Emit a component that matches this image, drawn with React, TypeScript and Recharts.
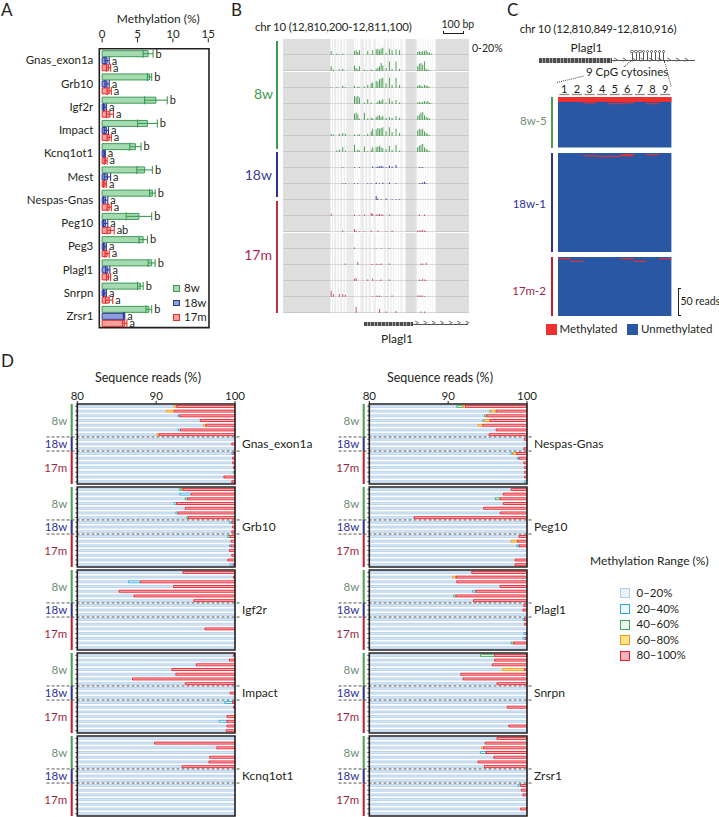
import React from 'react';
import { BarChart, Bar, XAxis, YAxis, ErrorBar, LabelList, ReferenceArea, ReferenceLine, ComposedChart } from 'recharts';

const INK = '#231f20';
const FONT = 'Lato, "Open Sans", "DejaVu Sans", sans-serif';

// ---------------- Panel A data ----------------
const genesA = ['Gnas_exon1a', 'Grb10', 'Igf2r', 'Impact', 'Kcnq1ot1', 'Mest', 'Nespas-Gnas', 'Peg10', 'Peg3', 'Plagl1', 'Snrpn', 'Zrsr1'];
const meth8w = [6.5, 6.7, 7.6, 6.4, 4.7, 6.0, 7.1, 5.2, 5.8, 7.0, 5.4, 6.6];
const err8w = [0.7, 0.3, 1.6, 1.4, 0.8, 1.1, 0.4, 1.8, 0.6, 0.5, 0.4, 0.4];
const meth18w = [0.7, 0.7, 0.4, 0.6, 0.35, 0.75, 0.5, 0.5, 0.4, 0.8, 0.4, 3.1];
const err18w = [0.3, 0.3, 0.2, 0.3, 0.1, 0.45, 0.3, 0.3, 0.2, 0.3, 0.2, 0.1];
const meth17m = [0.9, 1.0, 1.1, 1.0, 0.5, 0.4, 1.0, 1.2, 0.7, 0.9, 1.0, 3.2];
const err17m = [0.3, 0.3, 0.5, 0.3, 0.2, 0.2, 0.3, 0.5, 0.3, 0.3, 0.5, 0.3];
const sig8w = ['b', 'b', 'b', 'b', 'b', 'b', 'b', 'b', 'b', 'b', 'b', 'b'];
const sig18w = ['a', 'a', 'a', 'a', 'a', 'a', 'a', 'a', 'a', 'a', 'a', 'a'];
const sig17m = ['a', 'a', 'a', 'a', 'a', 'a', 'a', 'ab', 'a', 'a', 'a', 'a'];
const legendA = ['8w', '18w', '17m'];

// ---------------- Panel B data ----------------
const cpgPos = [234, 245, 261, 274, 290, 303, 347, 355, 363, 371, 395, 411, 428, 435, 452, 460, 468, 476, 484, 500, 516, 529, 540, 548, 556, 565, 581, 589, 653, 661, 669, 677, 686, 694, 702, 710, 718, 726, 734];
const trk8w1 = [5, 1, 2, 1, 2, 0, 5, 6, 4, 6, 0, 5, 1, 6, 7, 8, 6, 8, 9, 3, 8, 6, 0, 7, 0, 6, 0, 0, 4, 5, 4, 5, 5, 6, 4, 3, 2, 0, 0];
const trk8w2 = [6, 2, 0, 2, 3, 0, 7, 4, 2, 6, 2, 1, 2, 1, 3, 4, 6, 10, 7, 4, 12, 3, 0, 12, 0, 3, 0, 0, 6, 9, 10, 8, 12, 3, 2, 1, 0, 0, 0];
const trk8w3 = [1, 0, 1, 0, 3, 1, 3, 0, 2, 1, 2, 4, 6, 7, 9, 8, 11, 12, 13, 6, 13, 4, 0, 13, 0, 4, 0, 0, 3, 4, 3, 2, 4, 3, 3, 1, 0, 0, 0];
const trk8w4 = [0, 0, 0, 0, 0, 0, 10, 9, 10, 8, 2, 6, 2, 0, 1, 3, 5, 4, 6, 2, 7, 4, 0, 5, 0, 2, 0, 0, 2, 3, 2, 3, 4, 3, 4, 2, 1, 0, 0];
const trk8w5 = [0, 0, 0, 0, 0, 0, 8, 9, 7, 2, 9, 2, 3, 2, 4, 5, 6, 4, 5, 3, 4, 3, 0, 5, 0, 3, 0, 0, 5, 7, 9, 10, 6, 4, 3, 2, 0, 0, 0];
const trk8w6 = [3, 2, 0, 3, 4, 3, 2, 0, 2, 2, 1, 3, 6, 9, 8, 10, 9, 10, 11, 6, 11, 5, 0, 9, 0, 4, 0, 0, 7, 9, 8, 9, 6, 4, 3, 1, 0, 0, 0];
const trk8w7 = [0, 0, 2, 3, 6, 2, 9, 1, 3, 2, 7, 1, 3, 6, 6, 7, 8, 6, 5, 4, 8, 3, 0, 9, 0, 2, 0, 0, 6, 8, 9, 10, 6, 4, 3, 1, 0, 0, 0];
const trk18w1 = [0, 0, 0, 0, 1, 0, 1, 0, 0, 1, 0, 0, 0, 2, 1, 2, 2, 3, 2, 1, 3, 2, 0, 4, 0, 0, 0, 0, 0, 1, 1, 1, 0, 0, 0, 0, 0, 0, 0];
const trk18w2 = [0, 0, 0, 0, 1, 1, 1, 0, 1, 0, 0, 1, 1, 0, 2, 0, 1, 0, 2, 0, 2, 0, 0, 1, 0, 0, 0, 0, 0, 1, 1, 2, 3, 1, 0, 0, 0, 0, 0];
const trk18w3 = [0, 0, 0, 0, 0, 0, 0, 0, 0, 0, 0, 0, 0, 0, 5, 2, 0, 1, 0, 2, 0, 1, 0, 1, 0, 1, 0, 0, 0, 0, 0, 0, 0, 0, 0, 0, 0, 0, 0];
const trk17m1 = [3, 0, 0, 0, 0, 0, 2, 0, 0, 1, 2, 0, 4, 3, 2, 2, 3, 2, 2, 0, 2, 0, 0, 0, 0, 0, 0, 0, 0, 2, 0, 0, 2, 0, 0, 0, 0, 0, 0];
const trk17m2 = [0, 0, 0, 0, 2, 0, 4, 2, 0, 1, 1, 0, 2, 0, 0, 2, 0, 0, 0, 1, 0, 2, 0, 0, 0, 0, 0, 0, 2, 2, 2, 3, 2, 1, 0, 0, 0, 0, 0];
const trk17m3 = [0, 0, 0, 0, 0, 0, 2, 0, 0, 0, 0, 0, 0, 0, 1, 0, 0, 1, 0, 0, 1, 0, 0, 0, 0, 0, 0, 0, 0, 0, 0, 0, 0, 0, 0, 0, 0, 0, 0];
const trk17m4 = [0, 0, 0, 0, 0, 2, 0, 0, 4, 0, 0, 0, 1, 1, 2, 1, 1, 2, 0, 0, 2, 0, 0, 0, 0, 0, 0, 0, 0, 0, 2, 2, 0, 3, 0, 0, 0, 0, 0];
const trk17m5 = [0, 0, 0, 0, 0, 0, 3, 4, 0, 0, 0, 2, 0, 3, 1, 0, 1, 2, 0, 0, 2, 0, 0, 0, 0, 0, 0, 0, 0, 2, 1, 3, 2, 1, 0, 0, 0, 0, 0];
const trk17m6 = [8, 4, 0, 4, 4, 3, 0, 0, 0, 0, 0, 0, 0, 1, 2, 1, 2, 1, 0, 1, 0, 2, 0, 0, 0, 0, 0, 0, 2, 2, 2, 2, 1, 0, 0, 0, 0, 0, 0];
const trk17m7 = [0, 0, 0, 0, 0, 0, 0, 8, 0, 0, 0, 0, 0, 0, 0, 0, 5, 0, 0, 2, 0, 0, 0, 3, 0, 0, 0, 0, 0, 0, 2, 0, 2, 0, 0, 0, 0, 0, 0];

// ---------------- Panel C data ----------------
const cpgNumbers = [1, 2, 3, 4, 5, 6, 7, 8, 9];
const reads8w5 = 91;
const mk8wRead = [0, 10, 10, 11, 11];
const mk8wSpan = [9, 2, 2, 2, 2];
const mk8wFrom = [1, 3, 6, 5, 8];
const mk8wTo = [9, 3, 6, 5, 8];
const reads18w1 = 179;
const mk18wRead = [2, 2, 4, 4, 5];
const mk18wSpan = [2, 2, 2, 2, 2];
const mk18wFrom = [6, 8, 3, 6, 4];
const mk18wTo = [6, 8, 3, 6, 5];
const reads17m2 = 107;
const mk17mRead = [2, 2, 2, 7, 7];
const mk17mSpan = [2, 2, 2, 2, 2];
const mk17mFrom = [1, 6, 9, 2, 7];
const mk17mTo = [1, 6, 9, 2, 7];

// ---------------- Panel D data ----------------
// 17 samples per gene: 7 x 8w, 3 x 18w, 7 x 17m ; share of reads (%) in each methylation range
const zeros17 = [0, 0, 0, 0, 0, 0, 0, 0, 0, 0, 0, 0, 0, 0, 0, 0, 0];
const gnasR = [7.4, 7.7, 7.0, 4.4, 3.7, 6.9, 9.6, 0, 0.4, 0, 0.2, 0.3, 0.3, 0.2, 0, 1.4, 0.4];
const gnasO = [0.3, 1.0, 0, 0, 0.3, 0, 0.3, 0, 0, 0, 0, 0, 0, 0, 0, 0, 0];
const gnasG = [0, 0, 0, 0, 0, 0, 0, 0, 0, 0, 0, 0, 0, 0, 0.2, 0, 0];
const gnasC = [0, 0, 0.2, 0, 0, 0.3, 0, 0, 0, 0, 0.2, 0, 0, 0, 0, 0, 0];
const grb10R = [6.6, 5.5, 6.0, 7.4, 6.3, 7.2, 5.9, 0.4, 0.3, 0.4, 0.6, 0.5, 0.5, 0.7, 0.4, 0.9, 0.2];
const grb10O = [0.1, 0.1, 0, 0, 0, 0, 0, 0, 0, 0, 0, 0, 0, 0, 0, 0, 0];
const grb10G = [0.3, 0, 0.3, 0, 0, 0, 0.2, 0, 0, 0, 0.3, 0, 0, 0, 0, 0, 0];
const grb10C = [0, 1.4, 0, 0.3, 0, 0.3, 0, 0.3, 0, 0, 0, 0, 0.2, 0, 0, 0, 0.4];
const igf2rR = [6.6, 0.2, 12.0, 7.8, 14.7, 12.8, 5.2, 0, 0, 0, 0, 0, 3.8, 0, 0, 0, 0];
const igf2rC = [0, 0, 1.5, 0, 0, 0, 0, 0, 0, 0, 0, 0, 0, 0, 0, 0, 0];
const impactR = [0.2, 0.7, 4.9, 8.0, 7.5, 13.0, 6.3, 0, 0.6, 0, 0.3, 0.2, 0, 1.0, 1.0, 1.0, 1.1];
const impactC = [0, 0, 0, 0, 0, 0, 0, 0, 0, 0, 1.0, 0, 0, 0, 1.0, 0, 0];
const kcnqR = [0, 10.2, 2.3, 0, 3.2, 3.3, 6.7, 0, 0, 0, 0, 0, 0, 0, 0, 0, 0];
const nespasR = [7.8, 3.9, 5.1, 4.7, 5.6, 3.9, 4.8, 0.3, 0, 0.4, 1.3, 1.0, 0.4, 0.3, 0.3, 0.3, 0];
const nespasO = [0.3, 0.7, 0, 0.7, 0.6, 0, 0, 0, 0, 0, 0.5, 0, 0, 0, 0, 0, 0];
const nespasG = [0.8, 0.1, 0.3, 0, 0, 0, 0, 0, 0, 0, 0, 0, 0, 0, 0, 0, 0];
const nespasC = [0, 0, 0, 0.2, 0, 0, 0, 0, 0, 0, 0.2, 0.2, 0, 0, 0, 0, 0.3];
const peg10R = [2.0, 3.0, 3.4, 3.0, 5.5, 3.4, 14.3, 0, 0, 0, 1.0, 1.2, 1.0, 0, 0, 1.5, 1.5];
const peg10O = [0, 0, 0, 0, 0, 0, 0, 0, 0, 0, 0, 0.8, 0, 0, 0, 0, 0];
const peg10G = [0, 0, 0.6, 0, 0, 0, 0, 0, 0, 0, 0, 0, 0, 0, 0, 0, 0];
const peg10C = [0, 0, 0, 0, 0, 0, 0, 0, 0, 0, 0, 0, 0.3, 0, 0, 0, 0];
const plagl1R = [7.0, 9.0, 8.9, 3.4, 6.5, 9.0, 6.8, 0.4, 0.5, 0, 0.3, 0.3, 0, 0.1, 0.2, 1.7, 0];
const plagl1O = [0, 0.4, 0, 0, 0, 0, 0, 0, 0, 0, 0, 0, 0, 0, 0, 0, 0];
const plagl1G = [0, 0, 0, 0, 0, 0.3, 0, 0, 0, 0, 0, 0, 0, 0, 0, 0.3, 0];
const plagl1C = [0, 0, 0, 0, 0.4, 0, 0, 0, 0, 0, 0.2, 0, 0, 0.3, 0.3, 0, 0];
const snrpnR = [4.1, 4.1, 4.4, 0.3, 8.4, 8.1, 3.8, 0, 0, 0, 0, 2.5, 0, 0, 0, 2.3, 0];
const snrpnO = [0, 0, 0, 2.8, 0, 0, 0, 0, 0, 0, 0, 0, 0, 0, 0, 0, 0];
const snrpnG = [1.8, 0, 0, 0, 0, 0, 0, 0, 0, 0, 0, 0, 0, 0, 0, 0, 0];
const zrsr1R = [3.8, 5.3, 5.5, 5.2, 4.2, 6.2, 5.4, 0, 0, 0, 0.8, 0.7, 0.5, 0, 0, 0.8, 0];
const zrsr1O = [0, 0, 0.25, 0, 0, 0, 0, 0, 0, 0, 0, 0, 0, 0, 0, 0, 0];
const zrsr1C = [0, 0, 0, 0.7, 0, 0, 0, 0, 0, 0, 0.3, 0, 0, 0, 0, 0, 0];
const rangeLabels = ['0\u201320%', '20\u201340%', '40\u201360%', '60\u201380%', '80\u2013100%'];

// ---------------- styles ----------------
const A_FILL = ['#a6dbb2', '#8d9ed8', '#f7a39c'];
const A_STROKE = ['#3d9b56', '#2d3b9b', '#e3302f'];
const RANGE_FILL = ['#d8e7f5', '#eef8fd', '#eef7ef', '#fde68a', '#f7b3bf'];
const RANGE_STROKE = ['#a7c7e6', '#29abe2', '#39a85a', '#f39322', '#e6212b'];
const LEG_FILL = ['#eaf2fa', '#eef8fd', '#eef7ef', '#fde68a', '#f7b3bf'];
const LEG_STROKE = ['#b3d0ea', '#29abe2', '#39a85a', '#f39322', '#e6212b'];
const GRP = ['#4aa04f', '#2e3192', '#be1e2d'];
const GRP_TXT_D = ['#6f8d77', '#2e3192', '#9e1f3f'];

const T = ({ x, y, size = 11.5, color = INK, anchor = 'start', ls = 0, children }: any) => (
  <div
    style={{
      position: 'absolute', left: x, top: y - size * 0.64, fontSize: size, lineHeight: `${size * 1.2}px`,
      color, whiteSpace: 'nowrap', letterSpacing: ls,
      transform: anchor === 'middle' ? 'translateX(-50%)' : anchor === 'end' ? 'translateX(-100%)' : undefined,
    }}
  >
    {children}
  </div>
);

const Box = ({ x, y, w, h, bg, border }: any) => (
  <div style={{ position: 'absolute', left: x, top: y, width: w, height: h, background: bg, border, boxSizing: 'border-box' }} />
);

// ---------------- Panel A ----------------
const sigLabel = (vals: number[], errs: number[], sigs: string[]) => (props: any) => {
  const vb = props.viewBox && props.viewBox.width != null ? props.viewBox : props;
  const { x, y, width, height } = vb;
  const i = props.value;
  if (i == null || x == null) return null;
  const ppu = vals[i] > 0 ? width / vals[i] : 0;
  const tx = x + width + errs[i] * ppu + 2.5;
  return (
    <text x={tx} y={y + height / 2 + 3.8} fontSize={11} fill={INK}>
      {sigs[i]}
    </text>
  );
};

function PanelA() {
  const data = genesA.map((g, i) => ({
    gene: g, idx: i, v8: meth8w[i], e8: err8w[i], v18: meth18w[i], e18: err18w[i], v17: meth17m[i], e17: err17m[i],
  }));
  const series = [
    { k: 'v8', e: 'e8', vals: meth8w, errs: err8w, sig: sig8w },
    { k: 'v18', e: 'e18', vals: meth18w, errs: err18w, sig: sig18w },
    { k: 'v17', e: 'e17', vals: meth17m, errs: err17m, sig: sig17m },
  ];
  return (
    <>
      <T x={1} y={11} size={17}>A</T>
      <T x={158.3} y={19.3} size={12} anchor="middle">Methylation (%)</T>
      <div style={{ position: 'absolute', left: 0, top: 0 }}>
        <BarChart width={215} height={335} data={data} layout="vertical" margin={{ top: 22.3, right: 6, bottom: 5, left: 0 }} barSize={6} barGap={1}>
          <XAxis type="number" orientation="top" domain={[-0.4, 15.1]} ticks={[0, 5, 10, 15]} allowDataOverflow height={20} tickSize={4} tickMargin={0} axisLine={false} tickLine={{ stroke: INK }} tick={{ fill: INK, fontSize: 11.5 }} />
          <YAxis type="category" dataKey="gene" width={99.3} tickLine={false} axisLine={false} tickSize={6} tickMargin={0} interval={0} padding={{ top: 6.4, bottom: 2.4 }} tick={{ fill: INK, fontSize: 11.5 }} />
          {series.map((s, j) => (
            <Bar key={s.k} dataKey={s.k} fill={A_FILL[j]} stroke={A_STROKE[j]} strokeWidth={1} isAnimationActive={false}>
              <ErrorBar dataKey={s.e} direction="x" width={4} stroke={A_STROKE[j]} strokeWidth={1.1} />
              <LabelList dataKey="idx" content={sigLabel(s.vals, s.errs, s.sig)} />
            </Bar>
          ))}
          <ReferenceArea x1={-0.4} x2={15.1} fill="none" stroke={INK} strokeWidth={1.6} ifOverflow="visible" />
        </BarChart>
      </div>
      {legendA.map((l, j) => (
        <React.Fragment key={l}>
          <Box x={173} y={285.3 + j * 14.5} w={6.5} h={6.5} bg={A_FILL[j]} border={`1.2px solid ${A_STROKE[j]}`} />
          <T x={184} y={288.5 + j * 14.5} size={11.5}>{l}</T>
        </React.Fragment>
      ))}
    </>
  );
}

// ---------------- Panel B ----------------
const TRACK_H = 16.1;
const B_SPIKE = ['#55a05e', '#3b4798', '#c35b73'];
const tracks = [
  { v: trk8w1, g: 0 }, { v: trk8w2, g: 0 }, { v: trk8w3, g: 0 }, { v: trk8w4, g: 0 }, { v: trk8w5, g: 0 }, { v: trk8w6, g: 0 }, { v: trk8w7, g: 0 },
  { v: trk18w1, g: 1 }, { v: trk18w2, g: 1 }, { v: trk18w3, g: 1 },
  { v: trk17m1, g: 2 }, { v: trk17m2, g: 2 }, { v: trk17m3, g: 2 }, { v: trk17m4, g: 2 }, { v: trk17m5, g: 2 }, { v: trk17m6, g: 2 }, { v: trk17m7, g: 2 },
];

function Track({ values, color, top }: any) {
  const data = cpgPos.map((p, i) => ({ pos: p, v: values[i] }));
  return (
    <div style={{ position: 'absolute', left: 283.3, top }}>
      <BarChart width={186} height={TRACK_H} data={data} margin={{ top: 0, right: 0, bottom: 0, left: 0 }}>
        <XAxis type="number" dataKey="pos" domain={[0, 900]} allowDataOverflow hide />
        <YAxis type="number" domain={[0, 20]} allowDataOverflow hide />
        <ReferenceArea x1={0} x2={900} y1={0} y2={20} fill="#dedede" fillOpacity={1} zIndex={-300} />
        <ReferenceArea x1={229} x2={592} y1={0} y2={20} fill="#ebebeb" fillOpacity={1} zIndex={-250} />
        <ReferenceArea x1={642} x2={739} y1={0} y2={20} fill="#ebebeb" fillOpacity={1} zIndex={-250} />
        {cpgPos.map((p) => (
          <ReferenceLine key={p} x={p} stroke="#ffffff" strokeWidth={1.4} zIndex={-200} />
        ))}
        <ReferenceLine y={0} stroke="#a0a0a0" strokeWidth={0.9} zIndex={-150} />
        <Bar dataKey="v" fill={color} barSize={1} isAnimationActive={false} />
      </BarChart>
    </div>
  );
}

function PanelB() {
  return (
    <>
      <T x={231} y={11} size={17}>B</T>
      <T x={255} y={27.3} size={11.5} ls={-0.2}>chr 10 (12,810,200-12,811,100)</T>
      <T x={441.5} y={24.5} size={10.5}>100 bp</T>
      <div style={{ position: 'absolute', left: 443, top: 30.5, width: 21, height: 3, borderLeft: `1px solid ${INK}`, borderRight: `1px solid ${INK}`, borderBottom: `1px solid ${INK}`, boxSizing: 'border-box' }} />
      <T x={472} y={48.5} size={10.5}>0-20%</T>
      {tracks.map((t, i) => (
        <Track key={i} values={t.v} color={B_SPIKE[t.g]} top={39.3 + i * TRACK_H} />
      ))}
      <Box x={276.3} y={40.7} w={2.2} h={108.3} bg="#3e9a4e" />
      <Box x={276.3} y={152.3} w={2.2} h={45} bg="#2e3192" />
      <Box x={276.3} y={201.3} w={2.2} h={111.7} bg="#c1303f" />
      <T x={273} y={95} size={14} color="#3e9a4e" anchor="end">8w</T>
      <T x={272} y={175.7} size={14} color="#3b3f92" anchor="end">18w</T>
      <T x={272} y={256} size={14} color="#b0244f" anchor="end">17m</T>
      {/* gene model */}
      <div style={{ position: 'absolute', left: 364, top: 321.8, width: 49, height: 4.5, background: 'repeating-linear-gradient(90deg,#4d4d4d 0 2.6px,#a8a8a8 2.6px 3.6px)' }} />
      <div style={{ position: 'absolute', left: 413, top: 323.6, width: 55, height: 0, borderTop: '1px solid #555' }} />
      <div style={{ position: 'absolute', left: 414, top: 317.2, fontSize: 9, color: '#555', letterSpacing: 3.2, whiteSpace: 'nowrap', lineHeight: '12px' }}>{'>>>>>>>'}</div>
      <T x={397} y={339.3} size={12} anchor="middle">Plagl1</T>
    </>
  );
}

// ---------------- Panel C ----------------
const CpgTick = (p: any) => {
  const { x, y, payload } = p;
  return (
    <g>
      <text x={x} y={y - 4} textAnchor="middle" fontSize={11} fill={INK}>{payload.value}</text>
      <line x1={x - 5} x2={x + 5} y1={y - 2.5} y2={y - 2.5} stroke="#8a8a8a" strokeWidth={1.3} />
    </g>
  );
};

function Heat({ top, height, reads, rd, sp, fr, to, axis }: any) {
  const marks = rd.map((r: number, i: number) => ({ r, s: sp[i], f: fr[i], t: to[i] }));
  const axisH = axis ? 18 : 0;
  return (
    <div style={{ position: 'absolute', left: 558.3, top: top - axisH }}>
      <ComposedChart width={113.4} height={height + axisH} data={marks} margin={{ top: 0, right: 0, bottom: 0, left: 0 }}>
        <XAxis type="number" dataKey="f" domain={[0.5, 9.5]} allowDataOverflow ticks={cpgNumbers} orientation="top" hide={!axis} height={axisH} tickLine={false} axisLine={false} tickSize={0} tickMargin={0} interval={0} tick={<CpgTick />} />
        <YAxis type="number" dataKey="r" domain={[0, reads]} reversed allowDataOverflow hide />
        <ReferenceArea x1={0.5} x2={9.5} y1={0} y2={reads} fill="#2957a4" fillOpacity={1} ifOverflow="visible" zIndex={100} />
        {marks.map((m: any, i: number) => (
          <ReferenceArea key={i} x1={m.f - 0.5} x2={m.t + 0.5} y1={m.r} y2={m.r + m.s} fill="#ee3030" fillOpacity={1} ifOverflow="visible" zIndex={110} />
        ))}
      </ComposedChart>
    </div>
  );
}

const Dotted = ({ x1, y1, x2, y2 }: any) => {
  const len = Math.hypot(x2 - x1, y2 - y1);
  const ang = (Math.atan2(y2 - y1, x2 - x1) * 180) / Math.PI;
  return <div style={{ position: 'absolute', left: x1, top: y1, width: len, height: 0, borderTop: '1.5px dotted #444', transformOrigin: '0 0', transform: `rotate(${ang}deg)` }} />;
};

function PanelC() {
  return (
    <>
      <T x={507} y={11} size={17}>C</T>
      <T x={598} y={29.3} size={11.5} anchor="middle" ls={-0.2}>chr 10 (12,810,849-12,810,916)</T>
      <T x={586.5} y={48.3} size={12} anchor="middle">Plagl1</T>
      <div style={{ position: 'absolute', left: 539.3, top: 58.2, width: 72.4, height: 4.5, background: 'repeating-linear-gradient(90deg,#4d4d4d 0 2.6px,#a8a8a8 2.6px 3.6px)' }} />
      <div style={{ position: 'absolute', left: 611.7, top: 60, width: 83.3, height: 0, borderTop: '1px solid #555' }} />
      <div style={{ position: 'absolute', left: 613, top: 53.6, fontSize: 9, color: '#555', letterSpacing: 3.6, whiteSpace: 'nowrap', lineHeight: '12px' }}>{'>>>>>>>>>'}</div>
      <div style={{ position: 'absolute', left: 630, top: 49.5, display: 'flex' }}>
        {cpgNumbers.map((n) => (
          <div key={n} style={{ width: 3.95, display: 'flex', flexDirection: 'column', alignItems: 'center' }}>
            <div style={{ width: 3.4, height: 3.4, borderRadius: '50%', border: '0.8px solid #555', boxSizing: 'border-box', background: '#fff' }} />
            <div style={{ width: 0.8, height: 7, background: '#555' }} />
          </div>
        ))}
      </div>
      <T x={586} y={72.3} size={11.5}>9 CpG cytosines</T>
      <Dotted x1={557.3} y1={82} x2={584} y2={75.5} />
      <Dotted x1={631.5} y1={61} x2={624} y2={67} />
      <Dotted x1={664.5} y1={61} x2={671} y2={86} />
      <Heat top={97.3} height={50.4} reads={reads8w5} rd={mk8wRead} sp={mk8wSpan} fr={mk8wFrom} to={mk8wTo} axis />
      <Heat top={152.7} height={99} reads={reads18w1} rd={mk18wRead} sp={mk18wSpan} fr={mk18wFrom} to={mk18wTo} />
      <Heat top={256.7} height={59} reads={reads17m2} rd={mk17mRead} sp={mk17mSpan} fr={mk17mFrom} to={mk17mTo} />
      <Box x={551.3} y={97.3} w={2.2} h={50.4} bg="#4aa04f" />
      <Box x={551.3} y={152.7} w={2.2} h={99} bg="#2e3192" />
      <Box x={551.3} y={256.7} w={2.2} h={59} bg="#be1e2d" />
      <T x={546.7} y={121.7} size={11.5} color="#6f8d77" anchor="end">8w-5</T>
      <T x={546} y={204} size={11.5} color="#2e3192" anchor="end">18w-1</T>
      <T x={546} y={291} size={11.5} color="#a51d4d" anchor="end">17m-2</T>
      <div style={{ position: 'absolute', left: 677.5, top: 288.3, width: 3, height: 27.4, borderLeft: `1px solid ${INK}`, borderTop: `1px solid ${INK}`, borderBottom: `1px solid ${INK}`, boxSizing: 'border-box' }} />
      <T x={680.5} y={302} size={10.5}>50 reads</T>
      <Box x={545.7} y={323.8} w={11.6} h={11.6} bg="#ee3030" />
      <T x={559.5} y={329.5} size={11.5}>Methylated</T>
      <Box x={626.7} y={323.8} w={11.6} h={11.6} bg="#2957a4" />
      <T x={641} y={329.5} size={11.5}>Unmethylated</T>
    </>
  );
}

// ---------------- Panel D ----------------
const genesD = [
  { name: 'Gnas_exon1a', r: gnasR, o: gnasO, g: gnasG, c: gnasC, col: 0, k: 0 },
  { name: 'Grb10', r: grb10R, o: grb10O, g: grb10G, c: grb10C, col: 0, k: 1 },
  { name: 'Igf2r', r: igf2rR, o: zeros17, g: zeros17, c: igf2rC, col: 0, k: 2 },
  { name: 'Impact', r: impactR, o: zeros17, g: zeros17, c: impactC, col: 0, k: 3 },
  { name: 'Kcnq1ot1', r: kcnqR, o: zeros17, g: zeros17, c: zeros17, col: 0, k: 4 },
  { name: 'Nespas-Gnas', r: nespasR, o: nespasO, g: nespasG, c: nespasC, col: 1, k: 0 },
  { name: 'Peg10', r: peg10R, o: peg10O, g: peg10G, c: peg10C, col: 1, k: 1 },
  { name: 'Plagl1', r: plagl1R, o: plagl1O, g: plagl1G, c: plagl1C, col: 1, k: 2 },
  { name: 'Snrpn', r: snrpnR, o: snrpnO, g: snrpnG, c: zeros17, col: 1, k: 3 },
  { name: 'Zrsr1', r: zrsr1R, o: zrsr1O, g: zeros17, c: zrsr1C, col: 1, k: 4 },
];
const groupsD = [
  { label: '8w', y1: 0, y2: 6 },
  { label: '18w', y1: 7, y2: 9 },
  { label: '17m', y1: 10, y2: 16 },
];

function ReadPanel({ gene, r, o, g, c, left, top, axis }: any) {
  const data = r.map((rv: number, i: number) => ({
    row: i, base: 100 - rv - o[i] - g[i] - c[i], c: c[i], g: g[i], o: o[i], r: rv,
  }));
  const axisH = axis ? 18 : 0;
  const mt = 2;
  const keys = ['base', 'c', 'g', 'o', 'r'];
  return (
    <div style={{ position: 'absolute', left, top: top - mt - axisH }}>
      <BarChart width={340} height={mt + axisH + 80 + 2} data={data} layout="vertical" margin={{ top: mt, right: 105, bottom: 2, left: 74.3 }} barCategoryGap="30%">
        <XAxis type="number" orientation="top" domain={[80, 100]} ticks={[80, 90, 100]} allowDataOverflow hide={!axis} height={axisH} tickSize={3} tickMargin={1} axisLine={false} tickLine={{ stroke: INK }} tick={{ fill: INK, fontSize: 11.5 }} />
        <YAxis type="category" dataKey="row" width={3} tickSize={2} tickMargin={0} interval={0} axisLine={false} tickLine={{ stroke: INK, strokeWidth: 0.8 }} tickFormatter={() => ''} />
        {keys.map((k, j) => (
          <Bar key={k} dataKey={k} stackId="s" fill={RANGE_FILL[j]} stroke={RANGE_STROKE[j]} strokeWidth={j === 0 ? 0.7 : 0.9} isAnimationActive={false} />
        ))}
        <ReferenceLine segment={[{ x: 76.1, y: 6 }, { x: 100.65, y: 6 }]} position="end" stroke="#555" strokeWidth={1} strokeDasharray="3 2" ifOverflow="visible" />
        <ReferenceLine segment={[{ x: 76.1, y: 9 }, { x: 100.65, y: 9 }]} position="end" stroke="#555" strokeWidth={1} strokeDasharray="3 2" ifOverflow="visible" />
        {groupsD.map((gr, j) => (
          <ReferenceArea key={gr.label} x1={79.16} x2={79.42} y1={gr.y1} y2={gr.y2} fill={GRP[j]} fillOpacity={1} stroke="none" ifOverflow="visible" label={{ value: gr.label, position: 'left', offset: 3.5, fill: GRP_TXT_D[j], fontSize: 11.5 }} />
        ))}
        <ReferenceArea x1={80} x2={100} fill="none" stroke={INK} strokeWidth={1.6} ifOverflow="visible" zIndex={1000} label={{ value: gene, position: 'right', offset: 7, fill: INK, fontSize: 12 }} />
      </BarChart>
    </div>
  );
}

function PanelD() {
  return (
    <>
      <T x={1} y={362} size={17}>D</T>
      <T x={148} y={378} size={12.5} anchor="middle">Sequence reads (%)</T>
      <T x={440} y={378} size={12.5} anchor="middle">Sequence reads (%)</T>
      {genesD.map((gd) => (
        <ReadPanel key={gd.name} gene={gd.name} r={gd.r} o={gd.o} g={gd.g} c={gd.c} left={gd.col * 292} top={404.3 + gd.k * 82.8} axis={gd.k === 0} />
      ))}
      <T x={590} y={561.7} size={12}>Methylation Range (%)</T>
      {rangeLabels.map((l, j) => (
        <React.Fragment key={l}>
          <Box x={620} y={588.3 + j * 15.6} w={10} h={10} bg={LEG_FILL[j]} border={`1.5px solid ${LEG_STROKE[j]}`} />
          <T x={636.5} y={593.3 + j * 15.6} size={11.5}>{l}</T>
        </React.Fragment>
      ))}
    </>
  );
}

export default function App() {
  return (
    <div style={{ position: 'absolute', left: 0, top: 0, width: 719, height: 817, background: '#fff', fontFamily: FONT, color: INK, overflow: 'hidden' }}>
      <PanelA />
      <PanelB />
      <PanelC />
      <PanelD />
    </div>
  );
}
